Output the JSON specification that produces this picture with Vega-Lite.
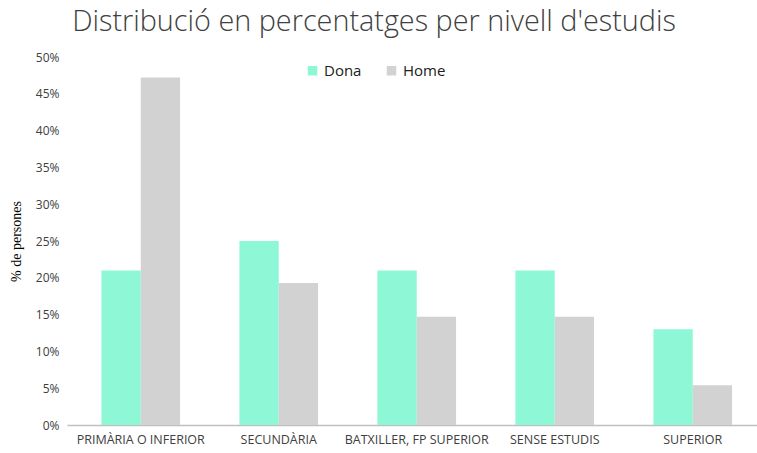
{
  "$schema": "https://vega.github.io/schema/vega-lite/v6.json",
  "autosize": {"type": "none"},
  "padding": {"left": 67, "top": 57, "right": 0, "bottom": 28},
  "width": 690,
  "height": 368,
  "background": "white",
  "title": {
    "text": "Distribució en percentatges per nivell d'estudis",
    "anchor": "middle",
    "dx": -38,
    "offset": 14,
    "fontSize": 28.8,
    "font": "Open Sans",
    "fontWeight": 300,
    "color": "#404040"
  },
  "data": {
    "values": [
      {"nivell": "PRIMÀRIA O INFERIOR", "sexe": "Dona", "pct": 21},
      {"nivell": "PRIMÀRIA O INFERIOR", "sexe": "Home", "pct": 47.2},
      {"nivell": "SECUNDÀRIA", "sexe": "Dona", "pct": 25},
      {"nivell": "SECUNDÀRIA", "sexe": "Home", "pct": 19.3},
      {"nivell": "BATXILLER, FP SUPERIOR", "sexe": "Dona", "pct": 21},
      {"nivell": "BATXILLER, FP SUPERIOR", "sexe": "Home", "pct": 14.7},
      {"nivell": "SENSE ESTUDIS", "sexe": "Dona", "pct": 21},
      {"nivell": "SENSE ESTUDIS", "sexe": "Home", "pct": 14.7},
      {"nivell": "SUPERIOR", "sexe": "Dona", "pct": 13},
      {"nivell": "SUPERIOR", "sexe": "Home", "pct": 5.4}
    ]
  },
  "mark": {"type": "bar"},
  "encoding": {
    "x": {
      "field": "nivell",
      "type": "nominal",
      "sort": null,
      "scale": {"paddingInner": 0.43, "paddingOuter": 0.215, "align": 0.58},
      "axis": {
        "title": null,
        "labelAngle": 0,
        "labelFont": "Open Sans",
        "labelFontSize": 12.5,
        "labelColor": "#404040",
        "labelPadding": 8,
        "domainColor": "#c0c0c0",
        "domainWidth": 1.5,
        "ticks": false
      }
    },
    "xOffset": {"field": "sexe", "type": "nominal"},
    "y": {
      "field": "pct",
      "type": "quantitative",
      "scale": {"domain": [0, 50]},
      "axis": {
        "title": "% de persones",
        "titleFont": "Liberation Serif",
        "titleFontSize": 14,
        "titleFontWeight": "normal",
        "titleColor": "#000000",
        "titlePadding": 12,
        "values": [0, 5, 10, 15, 20, 25, 30, 35, 40, 45, 50],
        "labelExpr": "datum.value + '%'",
        "labelFont": "Open Sans",
        "labelFontSize": 12,
        "labelColor": "#404040",
        "labelPadding": 8,
        "domain": false,
        "ticks": false,
        "grid": false
      }
    },
    "color": {
      "field": "sexe",
      "type": "nominal",
      "scale": {"domain": ["Dona", "Home"], "range": ["#8ef7d6", "#d2d2d2"]},
      "legend": {
        "title": null,
        "orient": "none",
        "direction": "horizontal",
        "legendX": 238,
        "legendY": 6,
        "symbolType": "square",
        "symbolSize": 90,
        "symbolStrokeWidth": 0,
        "labelFont": "Open Sans",
        "labelFontSize": 15,
        "labelColor": "#202020",
        "columnPadding": 22
      }
    }
  },
  "config": {"view": {"stroke": null}}
}
